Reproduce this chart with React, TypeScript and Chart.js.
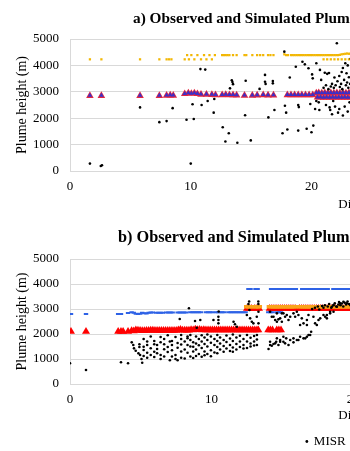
import React, { useEffect, useRef } from 'react';
import { Chart, registerables } from 'chart.js';

Chart.register(...registerables);

type P = [number, number];

const FONT = '"Liberation Serif", "Times New Roman", serif';

const titleA = 'a) Observed and Simulated Plume Heights';
const titleB = 'b) Observed and Simulated Plume Heights';
const xAxisTitle = 'Distance';
const yAxisTitle = 'Plume height (m)';
const legendLabel = 'MISR';
const yTickStep = 1000;
const yMax = 5000;
const xTickStep = 10;
const xMaxTop = 48.2;
const xMaxBottom = 41.1;

// ---------- panel a ----------
const topMisr: P[] = [
  [1.65, 280], [2.55, 190], [2.65, 215],
  [5.8, 2410],
  [7.4, 1850], [8.0, 1890], [8.5, 2380],
  [9.65, 1940], [10.0, 280], [10.15, 2530], [10.25, 1970], [10.8, 3860], [10.9, 2500], [11.2, 3840],
  [11.4, 2650], [11.9, 2210], [11.95, 2730],
  [12.65, 1660], [12.87, 1120], [13.15, 1430], [13.25, 3130], [13.4, 3440], [13.45, 3370], [13.5, 3290], [13.86, 1070],
  [14.5, 2110], [14.55, 3420], [14.97, 1160],
  [15.7, 3110],
  [16.15, 3640], [16.15, 3380], [16.2, 3300], [16.43, 2030], [16.8, 3410], [16.8, 3320], [16.93, 2310],
  [17.6, 1430], [17.75, 4520], [17.8, 2470], [17.9, 2210], [18.0, 1570],
  [18.2, 3540], [18.7, 3950], [18.9, 2500], [18.95, 2420], [18.9, 1530],
  [19.25, 4140], [19.45, 4040], [19.6, 1600], [19.75, 3890], [19.9, 2540], [20.0, 1470], [20.05, 3660],
  [20.1, 3510], [20.15, 1720], [20.3, 2350], [20.4, 2650], [20.4, 4080],
  [20.6, 2600], [20.65, 2310], [20.7, 3830], [20.8, 3450], [21.0, 3150], [21.1, 3720], [21.2, 3250],
  [21.3, 3680], [21.4, 3100], [21.45, 3710], [21.5, 2410], [21.55, 2310], [21.6, 3200], [21.7, 3300],
  [21.8, 2650], [21.85, 3150], [21.9, 3540], [21.95, 2440], [22.0, 3250], [22.1, 4840], [22.15, 3400],
  [22.2, 2210], [22.3, 3600], [22.35, 3180], [22.45, 3300], [22.5, 3750], [22.55, 3100], [22.6, 3900],
  [22.7, 3450], [22.75, 2440], [22.8, 4080], [22.85, 3250], [22.9, 3700], [22.95, 3350], [23.0, 4000],
  [23.05, 3150], [23.1, 3550], [23.2, 3300], [23.25, 4250], [23.3, 3500], [23.3, 3850],
  [21.2, 2500], [21.7, 2150], [22.3, 2350], [22.6, 2100], [23.0, 2250], [23.15, 2600],
];

const topRed: P[] = [
  [1.65, 2850], [2.6, 2850], [5.8, 2850], [7.4, 2850], [8.0, 2860], [8.3, 2870], [8.55, 2860],
  [9.5, 2920], [9.8, 2950], [10.05, 2930], [10.3, 2950], [10.55, 2920], [10.85, 2900], [11.3, 2900],
  [11.75, 2890], [12.05, 2880],
  [12.6, 2880], [12.9, 2890], [13.2, 2880], [13.5, 2880], [13.8, 2870],
  [14.45, 2860], [15.1, 2860],
  [15.5, 2870], [16.0, 2880], [16.4, 2870], [16.85, 2870],
  [18.0, 2880], [18.3, 2880], [18.6, 2880], [18.9, 2880], [19.2, 2880], [19.5, 2880], [19.8, 2880], [20.1, 2880],
  [20.4, 2950], [20.5, 2790], [20.6, 2960], [20.75, 2790], [20.85, 2950], [21.0, 2780], [21.1, 2960],
  [21.25, 2790], [21.35, 2950], [21.5, 2780], [21.6, 2960], [21.75, 2790], [21.85, 2950], [22.0, 2780],
  [22.1, 2960], [22.25, 2790], [22.35, 2950], [22.5, 2780], [22.6, 2960], [22.75, 2790], [22.85, 2950],
  [23.0, 2780], [23.1, 2960], [23.25, 2790], [23.35, 2950], [23.5, 2780], [23.6, 2960],
];

const topBlue: P[] = [
  [1.65, 2860], [2.6, 2860], [5.8, 2860], [7.4, 2860], [8.0, 2870], [8.3, 2880], [8.55, 2870],
  [9.5, 2930], [9.8, 2960], [10.05, 2940], [10.3, 2960], [10.55, 2930], [10.85, 2910], [11.3, 2910],
  [11.75, 2900], [12.05, 2890],
  [12.6, 2890], [12.9, 2900], [13.2, 2890], [13.5, 2890], [13.8, 2880],
  [14.45, 2870], [15.1, 2870],
  [15.5, 2880], [16.0, 2890], [16.4, 2880], [16.85, 2880],
  [18.0, 2890], [18.3, 2890], [18.6, 2890], [18.9, 2890], [19.2, 2890], [19.5, 2890], [19.8, 2890], [20.1, 2890],
  [20.4, 2960], [20.5, 2800], [20.6, 2970], [20.75, 2800], [20.85, 2960], [21.0, 2790], [21.1, 2970],
  [21.25, 2800], [21.35, 2960], [21.5, 2790], [21.6, 2970], [21.75, 2800], [21.85, 2960], [22.0, 2790],
  [22.1, 2970], [22.25, 2800], [22.35, 2960], [22.5, 2790], [22.6, 2970], [22.75, 2800], [22.85, 2960],
  [23.0, 2790], [23.1, 2970], [23.25, 2800], [23.35, 2960], [23.5, 2790], [23.6, 2970],
];

const topYellow: P[] = [
  [1.65, 4230], [2.6, 4230], [5.8, 4230], [7.4, 4230], [8.0, 4230], [8.2, 4230], [8.4, 4230],
  [9.5, 4230], [9.7, 4390], [9.85, 4230], [10.05, 4390], [10.3, 4230], [10.55, 4390], [10.85, 4230],
  [11.1, 4390], [11.3, 4230], [11.55, 4390], [11.75, 4230], [12.0, 4390],
  [12.6, 4390], [12.75, 4390], [12.9, 4390], [13.05, 4390], [13.2, 4390], [13.5, 4390], [13.8, 4390],
  [14.45, 4390], [14.6, 4390], [15.1, 4390], [15.5, 4390], [15.75, 4390], [16.0, 4390], [16.4, 4390],
  [16.6, 4390], [16.85, 4390], [17.75, 4420], [17.9, 4390], [18.05, 4390], [18.3, 4390], [18.45, 4390],
  [18.6, 4390], [18.75, 4390], [18.9, 4390], [19.05, 4390], [19.2, 4390], [19.35, 4390], [19.5, 4390],
  [19.65, 4390], [19.8, 4390], [19.95, 4390], [20.1, 4390], [20.25, 4390], [20.4, 4390], [20.55, 4390],
  [20.7, 4390], [20.85, 4390], [21.0, 4390], [21.15, 4390], [21.3, 4390], [21.45, 4390], [21.6, 4390],
  [21.75, 4390], [21.9, 4390], [22.05, 4390], [22.2, 4390], [22.35, 4400], [22.5, 4420], [22.65, 4430],
  [22.8, 4440], [22.95, 4450], [23.1, 4440], [23.25, 4450], [23.4, 4440],
  [21.0, 4230], [21.3, 4230], [21.6, 4230], [21.9, 4230], [22.2, 4230], [22.5, 4230], [22.8, 4230],
  [23.1, 4230], [23.3, 4300],
];

// ---------- panel b ----------
const botMisr: P[] = [
  [0.0, 830], [1.13, 560], [3.6, 870], [4.1, 830], [5.1, 850],
  [4.36, 1667], [4.47, 1560], [4.52, 1427], [4.64, 1330], [4.83, 1227], [4.95, 1160], [5.05, 1000],
  [4.9, 1590], [4.9, 1480],
  [5.2, 1800], [5.2, 1490], [5.2, 1360], [5.2, 1120],
  [5.45, 1700], [5.45, 1560], [5.45, 1250], [5.45, 1050],
  [5.7, 1900], [5.7, 1430], [5.7, 1160],
  [5.95, 1720], [5.95, 1590], [5.95, 1290], [5.95, 1080],
  [6.15, 1560], [6.15, 1400], [6.15, 1230],
  [6.4, 1880], [6.4, 1670], [6.4, 1160], [6.4, 1000],
  [6.65, 1800], [6.65, 1590], [6.65, 1390], [6.65, 1100],
  [6.9, 1950], [6.9, 1480], [6.9, 1280],
  [7.05, 1700], [7.05, 950],
  [7.2, 1720], [7.2, 1560], [7.2, 1350], [7.2, 1100],
  [7.45, 1880], [7.45, 1160], [7.45, 1000],
  [7.6, 1640], [7.6, 1450], [7.6, 950],
  [7.85, 1960], [7.85, 1800], [7.85, 1580], [7.85, 1300], [7.85, 1050],
  [8.1, 1700], [8.1, 1380], [8.1, 1020],
  [8.3, 1900], [8.3, 1830], [8.3, 1560], [8.3, 1250],
  [8.5, 1960], [8.5, 1760], [8.5, 1500], [8.5, 1100],
  [8.7, 1670], [8.7, 1490], [8.7, 1300], [8.7, 1040],
  [8.9, 1900], [8.9, 1620], [8.9, 1380], [8.9, 1120],
  [9.1, 1800], [9.1, 1550], [9.1, 1200],
  [9.3, 1950], [9.3, 1700], [9.3, 1440], [9.3, 1090],
  [9.5, 1860], [9.5, 1600], [9.5, 1300], [9.5, 1150],
  [9.7, 1980], [9.7, 1760], [9.7, 1500], [9.7, 1200],
  [9.95, 1900], [9.95, 1650], [9.95, 1350], [9.95, 1110],
  [10.2, 1800], [10.2, 1560], [10.2, 1260],
  [10.4, 1960], [10.4, 1720], [10.4, 1480], [10.4, 1230],
  [10.6, 1860], [10.6, 1620], [10.6, 1380],
  [10.85, 1760], [10.85, 1520], [10.85, 1290],
  [11.05, 1940], [11.05, 1680], [11.05, 1420],
  [11.3, 1820], [11.3, 1560], [11.3, 1320],
  [11.5, 1980], [11.5, 1720], [11.5, 1460], [11.5, 1290],
  [11.75, 1860], [11.75, 1600], [11.75, 1380],
  [12.0, 1930], [12.0, 1700], [12.0, 1480],
  [12.25, 1800], [12.25, 1560], [12.25, 1420],
  [12.5, 1960], [12.5, 1700], [12.5, 1440],
  [12.75, 1850], [12.75, 1620], [12.75, 1500],
  [13.0, 1920], [13.0, 1700], [13.0, 1540],
  [13.2, 1960], [13.2, 1780], [13.2, 1560],
  [7.75, 2600], [8.4, 3030], [8.83, 2520], [8.95, 2250], [9.2, 2560], [10.13, 2560], [10.48, 2693],
  [10.48, 2560], [10.48, 2427], [10.5, 2900], [11.55, 2490], [11.65, 2390], [11.78, 2290], [12.49, 2760],
  [12.67, 2960], [12.72, 2627], [12.84, 2493], [12.95, 2427], [13.19, 2693], [13.31, 2427], [13.31, 2893],
  [12.6, 3200], [12.65, 3300], [13.3, 3200], [13.3, 3300],
  [14.02, 1400], [14.13, 1560], [14.13, 1693], [14.25, 1533], [14.37, 1600], [14.49, 1627], [14.56, 1693],
  [14.61, 1827], [14.72, 1560], [14.84, 1693], [14.84, 1760], [15.07, 1693], [15.07, 1893], [15.19, 1627],
  [15.27, 1827], [15.43, 1560], [15.55, 1760], [15.78, 1667], [15.78, 1827], [16.02, 1760], [16.13, 1760],
  [16.25, 1893], [16.49, 1827], [16.61, 1827], [16.73, 1893], [16.84, 1960], [16.96, 1960], [17.03, 2093],
  [14.13, 2893], [14.25, 2693], [14.37, 2693], [14.49, 2560], [14.61, 2493], [14.61, 2827], [14.72, 2587],
  [14.84, 2627], [14.96, 2827], [14.96, 2493], [15.07, 2827], [15.19, 2693], [15.31, 2760], [15.43, 2560],
  [15.55, 2693], [15.78, 2827], [15.9, 2693], [16.02, 2893], [16.13, 2760], [16.25, 2360], [16.37, 2627],
  [16.49, 2427], [16.73, 2360], [16.73, 2560], [16.84, 2760], [17.19, 2693], [17.31, 2427], [17.43, 2360],
  [17.55, 2560], [17.67, 2627], [17.9, 2760], [18.02, 2693], [18.14, 2760], [18.14, 2627], [18.37, 2827],
  [18.37, 2893], [18.61, 2893],
  [17.1, 3000], [17.3, 3050], [17.5, 3100], [17.6, 2980], [17.8, 3120], [17.9, 3050], [18.0, 3150],
  [18.2, 3100], [18.3, 3200], [18.45, 3050], [18.49, 3093], [18.6, 3150], [18.61, 3160], [18.7, 3230],
  [18.8, 3100], [18.85, 3093], [18.95, 3180], [19.0, 3280], [19.08, 3227], [19.1, 3150], [19.2, 3220],
  [19.31, 3293], [19.3, 3100], [19.4, 3250], [19.5, 3180], [19.55, 3227], [19.6, 3300], [19.7, 3200],
  [19.8, 3150], [19.9, 3250], [20.0, 3200],
];

const botBlue: P[] = [
  [0.07, 2800], [1.13, 2800], [3.4, 2800], [3.6, 2800], [4.1, 2840],
  [4.35, 2870], [4.5, 2850], [4.65, 2810], [4.8, 2800], [4.95, 2810], [5.1, 2850], [5.25, 2830],
  [5.4, 2820], [5.55, 2850], [5.7, 2860], [5.85, 2860], [6.1, 2850], [6.25, 2850], [6.4, 2850],
  [6.55, 2850], [6.8, 2860], [6.95, 2860], [7.1, 2860], [7.25, 2860], [7.6, 2860], [7.75, 2860],
  [7.9, 2860], [8.05, 2860], [8.2, 2860], [8.5, 2870], [8.65, 2870], [8.8, 2870], [8.95, 2870],
  [9.1, 2870], [9.25, 2870], [9.6, 2870], [9.75, 2870], [9.9, 2870], [10.05, 2870], [10.3, 2870],
  [10.45, 2870], [10.6, 2870], [10.75, 2870], [10.9, 2870], [11.2, 2870], [11.35, 2870], [11.5, 2870],
  [11.65, 2870], [11.8, 2870], [11.95, 2870], [12.1, 2870], [12.25, 2870], [12.4, 2870],
  [14.0, 2870], [14.15, 2870], [14.3, 2870], [14.6, 2870], [14.75, 2870], [14.9, 2870],
  [12.6, 3800], [12.75, 3800], [13.1, 3800], [13.25, 3800],
  [14.2, 3800], [14.35, 3800], [14.5, 3800], [14.65, 3800], [14.8, 3800], [14.95, 3800], [15.2, 3800],
  [15.35, 3800], [15.5, 3800], [15.65, 3800], [15.8, 3800], [15.95, 3800],
  [16.4, 3800], [16.55, 3800], [16.7, 3800], [16.85, 3800], [17.0, 3800], [17.15, 3800], [17.3, 3800],
  [17.45, 3800], [17.6, 3800], [17.75, 3800], [17.9, 3800], [18.05, 3800], [18.2, 3800],
  [18.6, 3800], [18.75, 3800], [18.9, 3800], [19.05, 3800], [19.2, 3800], [19.35, 3800], [19.5, 3800],
  [19.65, 3800], [19.8, 3800], [20.0, 3800], [20.2, 3800],
];

const botRed: P[] = [
  [0.07, 2100], [1.13, 2100], [3.4, 2100], [3.6, 2100], [3.75, 2100], [4.1, 2100],
  [4.35, 2130], [4.5, 2120], [4.65, 2160], [4.8, 2150], [4.95, 2140], [5.1, 2130], [5.25, 2130],
  [5.4, 2140], [5.55, 2140], [5.7, 2150], [5.85, 2150], [6.0, 2140], [6.15, 2140], [6.3, 2140],
  [6.45, 2140], [6.6, 2140], [6.75, 2140], [6.9, 2140], [7.05, 2140], [7.2, 2140], [7.35, 2140],
  [7.5, 2140], [7.65, 2160], [7.8, 2180], [7.95, 2150], [8.1, 2150], [8.25, 2150], [8.4, 2150],
  [8.55, 2170], [8.7, 2160], [8.85, 2190], [9.0, 2170], [9.15, 2180], [9.3, 2160], [9.45, 2170],
  [9.6, 2160], [9.75, 2160], [9.9, 2160], [10.05, 2160], [10.2, 2160], [10.35, 2160], [10.5, 2160],
  [10.65, 2160], [10.8, 2160], [10.95, 2160], [11.1, 2160], [11.25, 2160], [11.4, 2160], [11.55, 2160],
  [11.7, 2160], [11.85, 2160], [12.0, 2160], [12.15, 2160], [12.3, 2160], [12.45, 2160], [12.6, 2160],
  [12.75, 2160], [12.9, 2160], [13.05, 2160], [13.2, 2160], [13.3, 2160],
  [14.0, 2160], [14.15, 2160], [14.3, 2160], [14.6, 2160], [14.75, 2160], [14.9, 2160],
  [12.5, 3020], [12.65, 3020], [12.8, 3020], [13.05, 3020], [13.2, 3020], [13.35, 3020],
  [14.1, 3020], [14.25, 3020], [14.4, 3020], [14.55, 3020], [14.7, 3020], [14.85, 3020], [15.0, 3020],
  [15.15, 3020], [15.3, 3020], [15.45, 3020], [15.6, 3020], [15.75, 3020], [15.9, 3020], [16.2, 3020],
  [16.35, 3020], [16.5, 3020], [16.65, 3020], [16.8, 3020], [16.95, 3020], [17.1, 3020], [17.25, 3020],
  [17.4, 3020], [17.55, 3020], [17.7, 3020], [17.85, 3020], [18.0, 3020], [18.15, 3020], [18.3, 3020],
  [18.45, 3020], [18.6, 3020], [18.75, 3020], [18.9, 3020], [19.05, 3020], [19.2, 3020], [19.35, 3020],
  [19.5, 3020], [19.65, 3020], [19.8, 3020], [19.95, 3020], [20.1, 3020],
];

const botOrange: P[] = [
  [12.5, 3090], [12.65, 3090], [12.8, 3090], [13.05, 3090], [13.2, 3090], [13.35, 3090],
  [14.1, 3090], [14.25, 3090], [14.4, 3090], [14.55, 3090], [14.7, 3090], [14.85, 3090], [15.0, 3090],
  [15.15, 3090], [15.3, 3090], [15.45, 3090], [15.6, 3090], [15.75, 3090], [15.9, 3090], [16.2, 3090],
  [16.35, 3090], [16.5, 3090], [16.65, 3090], [16.8, 3090], [16.95, 3090], [17.1, 3090], [17.25, 3090],
  [17.4, 3090], [17.55, 3090], [17.7, 3090], [17.85, 3090], [18.0, 3090], [18.15, 3090], [18.3, 3090],
  [18.45, 3090], [18.6, 3090], [18.75, 3090], [18.9, 3090], [19.05, 3090], [19.2, 3090], [19.35, 3090],
  [19.5, 3090], [19.65, 3090], [19.8, 3090], [19.95, 3090], [20.1, 3090],
];

const toXY = (pts: P[]) => pts.map(([x, y]) => ({ x, y }));

const panelTitlePlugin = {
  id: 'panelTitle',
  afterDraw(chart: any, _args: any, opts: any) {
    if (!opts || !opts.text) return;
    const { ctx, chartArea } = chart;
    ctx.save();
    ctx.font = `bold ${opts.size}px ${FONT}`;
    ctx.fillStyle = '#000';
    ctx.textAlign = 'left';
    ctx.textBaseline = 'alphabetic';
    ctx.fillText(opts.text, chartArea.left + opts.dx, chartArea.top - opts.dy);
    ctx.restore();
  },
};

const plainNumber = (v: any) => String(v);

function makeScales(xMax: number, xHeight: number) {
  return {
    x: {
      type: 'linear',
      min: 0,
      max: xMax,
      ticks: { stepSize: xTickStep, includeBounds: false, padding: 8, color: '#000', font: { size: 13, family: FONT }, callback: plainNumber },
      grid: { display: false, drawTicks: false },
      border: { display: true, color: '#d9d9d9', width: 1 },
      title: { display: true, text: xAxisTitle, color: '#000', font: { size: 13, family: FONT }, padding: { top: 0, bottom: 0 } },
      afterFit: (s: any) => { s.height = xHeight; },
    },
    y: {
      type: 'linear',
      min: 0,
      max: yMax,
      ticks: { stepSize: yTickStep, padding: 11, color: '#000', font: { size: 13, family: FONT }, callback: plainNumber },
      grid: { color: '#d9d9d9', drawTicks: false, lineWidth: 1 },
      border: { display: true, color: '#d9d9d9', width: 1 },
      title: { display: true, text: yAxisTitle, color: '#000', font: { size: 14, family: FONT }, padding: { top: 13.6, bottom: 0 } },
      afterFit: (s: any) => { s.width = 70; },
    },
  };
}

const dot = { pointStyle: 'circle', pointRadius: 1.3, backgroundColor: '#000', borderWidth: 0 };

export default function App() {
  const topRef = useRef<HTMLCanvasElement | null>(null);
  const botRef = useRef<HTMLCanvasElement | null>(null);

  useEffect(() => {
    Chart.defaults.font.family = FONT;
    const top = new Chart(topRef.current as HTMLCanvasElement, {
      type: 'scatter',
      data: {
        datasets: [
          { label: legendLabel, data: toXY(topMisr), ...dot },
          { label: 'Simulated 3', data: toXY(topBlue), pointStyle: 'triangle', pointRadius: 2.7, backgroundColor: '#3b30c8', borderWidth: 0 },
          { label: 'Simulated 2', data: toXY(topRed), pointStyle: 'triangle', pointRadius: 4.4, backgroundColor: '#e3263f', borderWidth: 0 },
          { label: 'Simulated 1', data: toXY(topYellow), pointStyle: 'rect', pointRadius: 1.6, backgroundColor: '#f2b705', borderWidth: 0 },
        ],
      } as any,
      options: {
        responsive: false,
        animation: false,
        events: [],
        layout: { padding: { top: 39, left: 0, right: 0, bottom: 0 }, autoPadding: false },
        scales: makeScales(xMaxTop, 41) as any,
        plugins: {
          legend: { display: false },
          title: { display: false },
          tooltip: { enabled: false },
          panelTitle: { text: titleA, size: 15.3, dx: 63, dy: 16 },
        } as any,
      },
      plugins: [panelTitlePlugin],
    });

    const bot = new Chart(botRef.current as HTMLCanvasElement, {
      type: 'scatter',
      data: {
        datasets: [
          { label: legendLabel, data: toXY(botMisr), ...dot },
          { label: 'Simulated 3', data: toXY(botOrange), pointStyle: 'line', pointRadius: 3, borderColor: '#f9a31b', backgroundColor: '#f9a31b', borderWidth: 3.5 },
          { label: 'Simulated 2', data: toXY(botRed), pointStyle: 'triangle', pointRadius: 4.6, backgroundColor: '#ff0000', borderWidth: 0 },
          { label: 'Simulated 1', data: toXY(botBlue), pointStyle: 'line', pointRadius: 2.2, borderColor: '#2e62e6', backgroundColor: '#2e62e6', borderWidth: 2 },
        ],
      } as any,
      options: {
        responsive: false,
        animation: false,
        events: [],
        layout: { padding: { top: 47, left: 0, right: 0, bottom: 0 }, autoPadding: false },
        scales: makeScales(xMaxBottom, 39.5) as any,
        plugins: {
          legend: {
            display: true,
            position: 'bottom',
            align: 'center',
            labels: {
              usePointStyle: true,
              boxWidth: 1,
              boxHeight: 2,
              padding: 11.5,
              color: '#000',
              font: { size: 13, family: FONT },
              filter: (item: any) => item.datasetIndex === 0,
            },
          },
          title: { display: false },
          tooltip: { enabled: false },
          panelTitle: { text: titleB, size: 16.3, dx: 48, dy: 17 },
        } as any,
      },
      plugins: [panelTitlePlugin],
    });

    return () => {
      top.destroy();
      bot.destroy();
    };
  }, []);

  return (
    <div style={{ position: 'absolute', left: 0, top: 0, width: 350, height: 451, overflow: 'hidden', background: '#fff' }}>
      <canvas ref={topRef} width={652} height={212} style={{ position: 'absolute', left: 0, top: 0, width: 652, height: 212 }} />
      <canvas ref={botRef} width={652} height={246} style={{ position: 'absolute', left: 0, top: 212, width: 652, height: 246 }} />
    </div>
  );
}
